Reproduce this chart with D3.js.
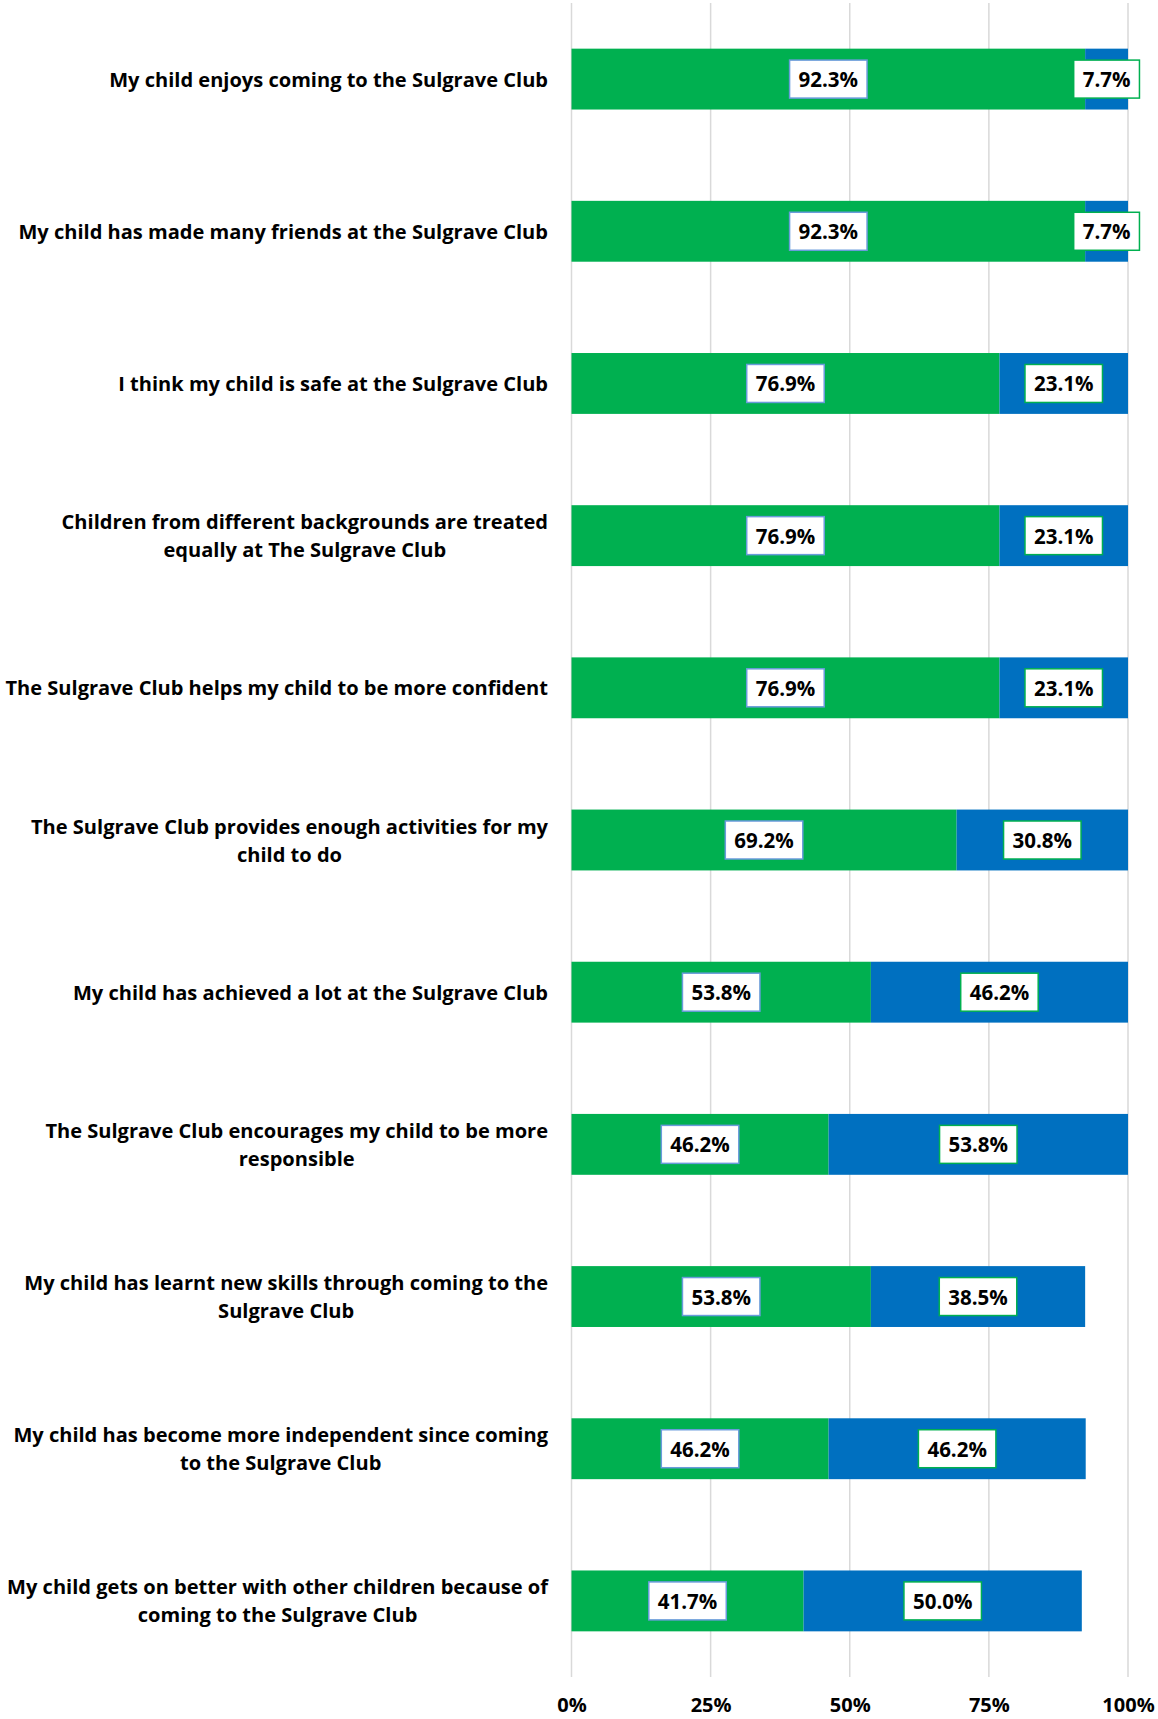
<!DOCTYPE html>
<html>
<head>
<meta charset="utf-8">
<script src="https://cdn.jsdelivr.net/npm/d3@7"></script>
<style>
  html, body { margin: 0; padding: 0; background: #fff; }
  svg { display: block; }
  text { font-family: "Open Sans", Lato, "Liberation Sans", sans-serif; font-weight: 700; fill: #000; }
</style>
</head>
<body>
<div id="chart"></div>
<script>
const categories = [
  "My child enjoys coming to the Sulgrave Club",
  "My child has made many friends at the Sulgrave Club",
  "I think my child is safe at the Sulgrave Club",
  "Children from different backgrounds are treated\nequally at The Sulgrave Club",
  "The Sulgrave Club helps my child to be more confident",
  "The Sulgrave Club provides enough activities for my\nchild to do",
  "My child has achieved a lot at the Sulgrave Club",
  "The Sulgrave Club encourages my child to be more\nresponsible",
  "My child has learnt new skills through coming to the\nSulgrave Club",
  "My child has become more independent since coming\nto the Sulgrave Club",
  "My child gets on better with other children because of\ncoming to the Sulgrave Club"
];
const seriesGreen = [92.3, 92.3, 76.9, 76.9, 76.9, 69.2, 53.8, 46.2, 53.8, 46.2, 41.7];
const seriesBlue  = [7.7, 7.7, 23.1, 23.1, 23.1, 30.8, 46.2, 53.8, 38.5, 46.2, 50.0];
const tickValues = [0, 25, 50, 75, 100];
const tickLabels = ["0%", "25%", "50%", "75%", "100%"];

const W = 1158, H = 1719;
const plot = { left: 571.5, right: 1128, top: 3, bottom: 1677 };
const colors = { green: "#00B050", blue: "#0070C0", grid: "#D9D9D9",
                 greenLabelBorder: "#6A9BDB", blueLabelBorder: "#00B050" };
const FONT = "'Open Sans', Lato, sans-serif";

const svg = d3.select("#chart").append("svg").attr("width", W).attr("height", H);

const x = d3.scaleLinear().domain([0, 100]).range([plot.left, plot.right]);
const y = d3.scaleBand().domain(d3.range(categories.length))
  .range([plot.top, plot.bottom]).paddingInner(0.6).paddingOuter(0.3);

// gridlines
svg.append("g").selectAll("line").data(tickValues).join("line")
  .attr("x1", d => x(d)).attr("x2", d => x(d))
  .attr("y1", plot.top).attr("y2", plot.bottom)
  .attr("stroke", colors.grid).attr("stroke-width", 1.5);

// x axis labels
const xAxis = d3.axisBottom(x).tickValues(tickValues)
  .tickFormat((d, i) => tickLabels[i]).tickSize(0).tickPadding(0);
const gx = svg.append("g").attr("transform", `translate(0, ${plot.bottom})`).call(xAxis);
gx.select(".domain").remove();
gx.selectAll("text").attr("y", 0).attr("dy", 0)
  .attr("transform", "translate(0, 35)")
  .style("font-size", "20px").style("font-family", FONT)
  .style("font-weight", 700).attr("fill", "#000");

// stacked data
const rows = categories.map((c, i) => ({ i, green: seriesGreen[i], blue: seriesBlue[i] }));
const stack = d3.stack().keys(["green", "blue"]);
const stacked = stack(rows);

const segG = svg.append("g");
stacked.forEach(layer => {
  segG.append("g").selectAll("rect").data(layer).join("rect")
    .attr("x", d => x(d[0]))
    .attr("width", d => x(d[1]) - x(d[0]))
    .attr("y", d => y(d.data.i))
    .attr("height", y.bandwidth())
    .attr("fill", layer.key === "green" ? colors.green : colors.blue);
});

// data labels
const labelG = svg.append("g");
stacked.forEach(layer => {
  layer.forEach(d => {
    const v = d[1] - d[0];
    const cx = x((d[0] + d[1]) / 2);
    const cy = y(d.data.i) + y.bandwidth() / 2;
    const g = labelG.append("g");
    const t = g.append("text")
      .attr("x", cx).attr("y", cy)
      .attr("text-anchor", "middle").attr("dominant-baseline", "central")
      .style("font-size", "20.5px")
      .text(v.toFixed(1) + "%");
    const bw = t.node().getComputedTextLength() + 18;
    g.insert("rect", "text")
      .attr("x", cx - bw / 2).attr("y", cy - 19)
      .attr("width", bw).attr("height", 38)
      .attr("fill", "#fff")
      .attr("stroke", layer.key === "green" ? colors.greenLabelBorder : colors.blueLabelBorder)
      .attr("stroke-width", 1.5);
  });
});

// category labels
const catG = svg.append("g");
let catFont = 19;
categories.forEach((c, i) => {
  const lines = c.split("\n");
  const cy = y(i) + y.bandwidth() / 2;
  const lh = 28;
  const t = catG.append("text")
    .attr("text-anchor", "middle")
    .style("font-size", catFont + "px");
  lines.forEach((ln, k) => {
    t.append("tspan").attr("x", 0)
      .attr("y", cy + (k - (lines.length - 1) / 2) * lh)
      .attr("dominant-baseline", "central")
      .text(ln);
  });
});
// fit font so the first label spans ~439px like the reference
const firstW = catG.select("text tspan").node().getComputedTextLength();
catFont = catFont * 439 / firstW;
catG.selectAll("text").style("font-size", catFont + "px");
// right-align each label block to the axis, lines centred within the block
catG.selectAll("text").each(function () {
  const el = d3.select(this);
  let maxW = 0;
  el.selectAll("tspan").each(function () { maxW = Math.max(maxW, this.getComputedTextLength()); });
  const cx = 548 - maxW / 2;
  el.selectAll("tspan").attr("x", cx);
});
</script>
</body>
</html>
